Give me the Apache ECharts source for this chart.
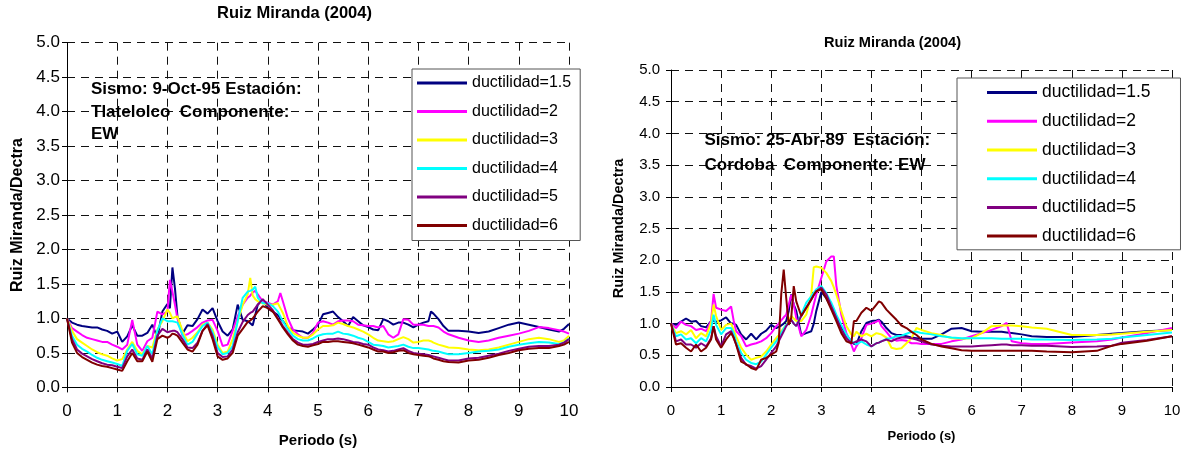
<!DOCTYPE html>
<html>
<head>
<meta charset="utf-8">
<title>Ruiz Miranda (2004)</title>
<script src="https://cdn.jsdelivr.net/npm/echarts@6/dist/echarts.min.js"></script>
<style>
  html, body { margin: 0; padding: 0; background: #fff; }
  #chart { width: 1185px; height: 452px; }
</style>
</head>
<body>
<div id="chart"></div>
<script>
// Ratio Ruiz Miranda / Dectra vs. period, two stations, six ductility levels.

const chartTitle = 'Ruiz Miranda (2004)';
const xAxisTitle = 'Periodo (s)';
const yAxisTitle = 'Ruiz Miranda/Dectra';
const seriesNames = ['ductilidad=1.5', 'ductilidad=2', 'ductilidad=3', 'ductilidad=4', 'ductilidad=5', 'ductilidad=6'];
const seriesColors = ['#000080', '#FF00FF', '#FFFF00', '#00FFFF', '#800080', '#800000'];
const noteLeft = 'Sismo: 9-Oct-95 Estación:\nTlatelolco  Componente:\nEW';
const noteRight = 'Sismo: 25-Abr-89  Estación:\nCordoba  Componente: EW';

// ---- Tlatelolco, 9-Oct-95, EW ----
const periodsLeft = [
  0, 0.1, 0.2, 0.3, 0.4, 0.5, 0.6, 0.7, 0.8, 0.9, 1.0,
  1.1, 1.2, 1.3, 1.4, 1.5, 1.6, 1.7, 1.8, 1.9, 2.0,
  2.05, 2.1, 2.15,
  2.2, 2.3, 2.4, 2.5, 2.6, 2.7, 2.8, 2.9, 3.0,
  3.1, 3.2, 3.3, 3.4, 3.5, 3.6,
  3.65, 3.7, 3.75, 3.8, 3.9, 4.0,
  4.1, 4.2, 4.25, 4.3, 4.4, 4.5,
  4.6, 4.7, 4.8, 4.9, 5.0, 5.1, 5.2, 5.3, 5.4, 5.5,
  5.6, 5.7, 5.8, 5.9, 6.0, 6.1, 6.2, 6.3, 6.4, 6.5,
  6.6, 6.7, 6.8, 6.9, 7.0, 7.1, 7.2,
  7.25, 7.3, 7.4, 7.5, 7.6,
  7.8, 8.0, 8.2, 8.4, 8.6, 8.8, 9.0,
  9.2, 9.4, 9.6, 9.8, 9.9, 10.0
];
const left_mu15 = [
  1.00, 0.94, 0.91, 0.89, 0.88, 0.87, 0.87, 0.84, 0.82, 0.78, 0.81,
  0.66, 0.74, 0.90, 0.75, 0.75, 0.79, 0.91, 0.72, 1.10, 1.21,
  1.15, 1.74, 1.44,
  1.03, 0.78, 0.90, 0.89, 0.99, 1.13, 1.07, 1.15, 0.96,
  0.81, 0.75, 0.84, 1.20, 0.98, 0.96,
  0.93, 0.90, 1.05, 1.20, 1.27, 1.15,
  1.10, 1.05, 1.00, 0.96, 0.87, 0.83,
  0.82, 0.81, 0.78, 0.84, 0.91, 1.06, 1.08, 1.10, 1.02, 0.96,
  0.89, 1.02, 0.96, 0.90, 0.875, 0.84, 0.83, 0.99, 0.96, 0.91,
  0.94, 0.94, 0.91, 0.87, 0.91, 0.94, 0.96,
  1.10, 1.07, 0.99, 0.89, 0.82,
  0.82, 0.81, 0.79, 0.81, 0.86, 0.91, 0.94,
  0.91, 0.875, 0.84, 0.81, 0.85, 0.92
];
const left_mu2 = [
  1.00, 0.86, 0.81, 0.76, 0.72, 0.70, 0.68, 0.66, 0.66, 0.62, 0.59,
  0.55, 0.62, 0.98, 0.62, 0.53, 0.67, 0.72, 1.10, 1.06, 1.10,
  1.56, 1.39, 1.20,
  1.00, 0.75, 0.77, 0.82, 0.875, 0.94, 0.97, 0.98, 0.82,
  0.60, 0.62, 0.82, 1.03, 1.20, 1.30,
  1.33, 1.38, 1.40, 1.35, 1.25, 1.23,
  1.20, 1.25, 1.37, 1.25, 1.00, 0.84,
  0.77, 0.72, 0.72, 0.79, 0.94, 0.96, 0.94, 0.91, 0.96, 0.97,
  0.97, 0.96, 0.91, 0.90, 0.89, 0.89, 0.87, 0.89, 0.77, 0.72,
  0.77, 0.99, 0.98, 0.91, 0.91, 0.91, 0.89,
  0.89, 0.89, 0.87, 0.81, 0.77,
  0.72, 0.68, 0.66, 0.68, 0.72, 0.75, 0.78,
  0.82, 0.875, 0.86, 0.83, 0.81, 0.78
];
const left_mu3 = [
  1.00, 0.82, 0.70, 0.65, 0.60, 0.55, 0.51, 0.48, 0.46, 0.42, 0.39,
  0.41, 0.55, 0.66, 0.53, 0.48, 0.60, 0.58, 0.84, 0.96, 1.13,
  1.08, 1.00, 1.02,
  1.03, 0.82, 0.67, 0.72, 0.80, 0.91, 0.94, 0.84, 0.62,
  0.50, 0.52, 0.70, 0.96, 1.20, 1.35,
  1.59, 1.33, 1.28, 1.25, 1.22, 1.20,
  1.20, 1.22, 1.15, 1.08, 0.89, 0.79,
  0.75, 0.72, 0.72, 0.77, 0.84, 0.89, 0.89, 0.90, 0.94, 0.92,
  0.89, 0.87, 0.84, 0.81, 0.77, 0.72, 0.68, 0.67, 0.66, 0.67,
  0.70, 0.73, 0.70, 0.65, 0.66, 0.68, 0.68,
  0.67, 0.65, 0.62, 0.60, 0.58,
  0.57, 0.55, 0.54, 0.55, 0.58, 0.62, 0.66,
  0.70, 0.72, 0.70, 0.66, 0.68, 0.75
];
const left_mu4 = [
  1.00, 0.75, 0.62, 0.56, 0.52, 0.47, 0.43, 0.40, 0.38, 0.36, 0.34,
  0.31, 0.53, 0.63, 0.48, 0.46, 0.60, 0.48, 0.82, 1.00, 0.96,
  0.96, 0.96, 0.95,
  0.94, 0.77, 0.62, 0.66, 0.78, 0.89, 0.94, 0.80, 0.58,
  0.48, 0.50, 0.60, 0.96, 1.30, 1.39,
  1.40, 1.42, 1.46, 1.30, 1.22, 1.22,
  1.18, 1.10, 1.03, 0.96, 0.84, 0.75,
  0.70, 0.68, 0.68, 0.71, 0.75, 0.77, 0.78, 0.78, 0.81, 0.78,
  0.77, 0.75, 0.72, 0.70, 0.66, 0.62, 0.61, 0.60, 0.58, 0.59,
  0.60, 0.62, 0.59, 0.57, 0.57, 0.56, 0.55,
  0.54, 0.53, 0.52, 0.50, 0.48,
  0.48, 0.50, 0.52, 0.53, 0.55, 0.59, 0.62,
  0.64, 0.66, 0.65, 0.63, 0.65, 0.71
];
const left_mu5 = [
  1.00, 0.70, 0.55, 0.49, 0.45, 0.41, 0.38, 0.35, 0.33, 0.32, 0.30,
  0.28, 0.45, 0.55, 0.42, 0.40, 0.55, 0.42, 0.75, 0.85, 0.80,
  0.81, 0.82, 0.82,
  0.80, 0.70, 0.58, 0.57, 0.65, 0.82, 0.92, 0.75, 0.50,
  0.44, 0.45, 0.55, 0.80, 0.95, 1.05,
  1.08, 1.10, 1.15, 1.20, 1.28, 1.20,
  1.12, 1.00, 0.95, 0.89, 0.79, 0.70,
  0.65, 0.62, 0.62, 0.63, 0.66, 0.68, 0.70, 0.70, 0.71, 0.70,
  0.68, 0.66, 0.65, 0.63, 0.62, 0.58, 0.55, 0.54, 0.52, 0.53,
  0.55, 0.57, 0.53, 0.50, 0.49, 0.48, 0.47,
  0.46, 0.45, 0.43, 0.41, 0.39,
  0.39, 0.42, 0.43, 0.46, 0.49, 0.53, 0.56,
  0.59, 0.60, 0.60, 0.62, 0.65, 0.70
];
const left_mu6 = [
  1.00, 0.65, 0.50, 0.44, 0.40, 0.36, 0.33, 0.31, 0.30, 0.28, 0.26,
  0.24, 0.38, 0.50, 0.38, 0.38, 0.52, 0.37, 0.70, 0.75, 0.72,
  0.74, 0.78, 0.77,
  0.75, 0.65, 0.55, 0.52, 0.62, 0.82, 0.90, 0.70, 0.45,
  0.40, 0.42, 0.50, 0.75, 0.85, 0.95,
  0.97, 1.00, 1.05, 1.10, 1.18, 1.15,
  1.10, 0.99, 0.93, 0.87, 0.77, 0.68,
  0.62, 0.60, 0.59, 0.61, 0.63, 0.66, 0.66, 0.67, 0.67, 0.66,
  0.65, 0.64, 0.62, 0.60, 0.58, 0.55, 0.52, 0.52, 0.50, 0.51,
  0.53, 0.54, 0.50, 0.48, 0.47, 0.46, 0.45,
  0.44, 0.42, 0.40, 0.38, 0.37,
  0.36, 0.39, 0.40, 0.43, 0.47, 0.50, 0.54,
  0.56, 0.57, 0.57, 0.60, 0.62, 0.66
];

// ---- Cordoba, 25-Abr-89, EW ----
const periodsRight = [
  0, 0.1, 0.2, 0.3, 0.4, 0.5, 0.6, 0.7, 0.8,
  0.85, 0.9, 1.0, 1.1, 1.2, 1.25, 1.3,
  1.4, 1.5, 1.6, 1.7, 1.8, 1.9, 2.0, 2.1,
  2.15, 2.2, 2.25, 2.3, 2.35, 2.4, 2.45, 2.5,
  2.6, 2.7, 2.8, 2.85, 2.9, 3.0, 3.1, 3.2, 3.25, 3.3,
  3.4, 3.5, 3.6, 3.65, 3.7, 3.8, 3.9, 4.0,
  4.1, 4.15, 4.2, 4.3, 4.4, 4.5, 4.6, 4.7, 4.8, 4.9, 5.0,
  5.2, 5.4, 5.6, 5.8, 6.0, 6.2, 6.4, 6.6, 6.7, 6.8,
  7.0, 7.2, 7.5, 8.0, 8.5, 8.8, 9.0, 9.5, 10.0
];
const right_mu15 = [
  1.00, 0.98, 1.03, 1.08, 1.03, 1.04, 0.96, 0.94, 1.04,
  1.04, 1.03, 1.05, 1.10, 1.00, 1.00, 0.98,
  0.83, 0.75, 0.84, 0.75, 0.84, 0.89, 0.98, 0.93,
  0.95, 0.97, 1.00, 1.04, 1.20, 1.46, 1.30, 1.20,
  0.82, 0.85, 0.88, 1.00, 1.20, 1.50, 1.40, 1.25, 1.17, 1.10,
  0.95, 0.82, 0.72, 0.68, 0.67, 0.88, 1.01, 1.04,
  1.05, 1.06, 1.03, 0.93, 0.85, 0.82, 0.82, 0.80, 0.78, 0.77, 0.76,
  0.76, 0.83, 0.92, 0.93, 0.88, 0.87, 0.87, 0.87, 0.86, 0.85,
  0.83, 0.80, 0.79, 0.79, 0.82, 0.84, 0.85, 0.88, 0.90
];
const right_mu2 = [
  1.00, 0.93, 1.03, 0.98, 0.96, 0.90, 0.92, 0.88, 1.04,
  1.47, 1.25, 1.22, 1.20, 1.27, 1.05, 0.88,
  0.80, 0.64, 0.67, 0.69, 0.72, 0.77, 0.85, 0.96,
  1.00, 1.05, 1.10, 1.14, 1.30, 1.45, 1.30, 1.09,
  0.80, 0.90, 1.14, 1.30, 1.46, 1.72, 1.98, 2.06, 2.06, 1.60,
  1.14, 0.85, 0.67, 0.56, 0.64, 0.77, 0.98, 1.00,
  1.03, 1.05, 0.96, 0.87, 0.77, 0.73, 0.74, 0.73, 0.69, 0.69, 0.68,
  0.68, 0.68, 0.72, 0.75, 0.80, 0.85, 0.90, 0.96, 1.01, 0.72,
  0.69, 0.68, 0.68, 0.70, 0.72, 0.75, 0.78, 0.85, 0.93
];
const right_mu3 = [
  1.00, 0.85, 0.88, 0.83, 0.90, 0.77, 0.85, 0.80, 1.01,
  1.30, 1.12, 0.90, 0.98, 1.00, 0.90, 0.80,
  0.62, 0.51, 0.43, 0.46, 0.48, 0.56, 0.67, 0.77,
  0.82, 0.88, 0.93, 0.98, 1.05, 1.12, 1.08, 1.04,
  1.04, 1.14, 1.46, 1.89, 1.90, 1.88, 1.80, 1.67, 1.57, 1.46,
  1.20, 0.96, 0.83, 0.80, 0.87, 0.80, 0.84, 0.80,
  0.85, 0.84, 0.83, 0.78, 0.62, 0.60, 0.61, 0.69, 0.77, 0.93, 0.90,
  0.85, 0.82, 0.77, 0.76, 0.77, 0.85, 0.96, 0.97, 0.97, 0.97,
  0.96, 0.94, 0.92, 0.82, 0.82, 0.83, 0.84, 0.87, 0.90
];
const right_mu4 = [
  1.00, 0.80, 0.83, 0.75, 0.77, 0.69, 0.77, 0.72, 0.90,
  1.14, 0.98, 0.83, 0.93, 0.93, 0.85, 0.72,
  0.54, 0.43, 0.38, 0.36, 0.40, 0.51, 0.62, 0.72,
  0.78, 0.85, 0.92, 0.98, 1.02, 1.06, 1.00, 0.96,
  1.14, 1.33, 1.43, 1.49, 1.54, 1.59, 1.48, 1.33, 1.24, 1.14,
  0.98, 0.83, 0.72, 0.70, 0.67, 0.72, 0.67, 0.64,
  0.69, 0.70, 0.72, 0.76, 0.77, 0.80, 0.81, 0.84, 0.87, 0.87, 0.85,
  0.83, 0.80, 0.78, 0.77, 0.77, 0.77, 0.77, 0.76, 0.76, 0.76,
  0.76, 0.75, 0.75, 0.74, 0.75, 0.76, 0.78, 0.82, 0.86
];
const right_mu5 = [
  1.00, 0.72, 0.75, 0.67, 0.67, 0.62, 0.69, 0.64, 0.77,
  0.96, 0.80, 0.64, 0.83, 0.88, 0.78, 0.67,
  0.46, 0.35, 0.33, 0.29, 0.33, 0.43, 0.54, 0.64,
  0.72, 0.80, 0.88, 0.96, 1.01, 1.06, 1.00, 0.96,
  1.12, 1.25, 1.38, 1.45, 1.51, 1.57, 1.46, 1.27, 1.18, 1.09,
  0.90, 0.77, 0.69, 0.70, 0.72, 0.75, 0.72, 0.64,
  0.69, 0.70, 0.72, 0.75, 0.72, 0.76, 0.78, 0.78, 0.77, 0.75, 0.72,
  0.67, 0.65, 0.64, 0.64, 0.64, 0.65, 0.66, 0.67, 0.67, 0.66,
  0.66, 0.65, 0.65, 0.63, 0.64, 0.65, 0.70, 0.74, 0.80
];
const right_mu6 = [
  1.00, 0.67, 0.69, 0.62, 0.56, 0.67, 0.56, 0.62, 0.75,
  0.96, 0.75, 0.62, 0.75, 0.85, 0.78, 0.67,
  0.40, 0.36, 0.30, 0.27, 0.43, 0.46, 0.51, 0.56,
  0.70, 1.46, 1.85, 1.40, 0.98, 1.09, 1.59, 1.35,
  1.12, 1.25, 1.38, 1.45, 1.51, 1.54, 1.40, 1.22, 1.13, 1.04,
  0.85, 0.72, 0.69, 1.04, 1.04, 1.17, 1.25, 1.20,
  1.30, 1.35, 1.33, 1.22, 1.14, 1.06, 0.97, 0.93, 0.87, 0.82, 0.75,
  0.68, 0.64, 0.61, 0.58, 0.57, 0.57, 0.57, 0.57, 0.57, 0.57,
  0.57, 0.57, 0.56, 0.55, 0.57, 0.65, 0.68, 0.73, 0.80
];

const leftValues = [left_mu15, left_mu2, left_mu3, left_mu4, left_mu5, left_mu6];
const rightValues = [right_mu15, right_mu2, right_mu3, right_mu4, right_mu5, right_mu6];

const FONT = '"Liberation Sans", Arial, sans-serif';

function pairs(xs, ys) {
  return xs.map((x, i) => [x, ys[i]]);
}

function makeSeries(values, periods, axisIndex) {
  return values.map((ys, k) => ({
    name: seriesNames[k],
    type: 'line',
    xAxisIndex: axisIndex,
    yAxisIndex: axisIndex,
    data: pairs(periods, ys),
    symbol: 'none',
    showSymbol: false,
    smooth: false,
    lineStyle: { width: 2, color: seriesColors[k] },
    itemStyle: { color: seriesColors[k] },
    emphasis: { disabled: true },
    animation: false
  }));
}

function xAxisFor(gridIndex, fontSize, margin, nameSize, nameGap) {
  return {
    gridIndex: gridIndex,
    type: 'value',
    min: 0, max: 10, interval: 1,
    name: xAxisTitle,
    nameLocation: 'middle',
    nameGap: nameGap,
    nameTextStyle: { fontFamily: FONT, fontWeight: 'bold', fontSize: nameSize, color: '#000' },
    axisLine: { show: true, onZero: false, lineStyle: { color: '#000', width: 1 } },
    axisTick: { show: true, inside: false, length: 5, lineStyle: { color: '#000' } },
    axisLabel: { fontFamily: FONT, fontSize: fontSize, color: '#000', margin: margin },
    splitLine: { show: true, lineStyle: { color: '#111', width: 1, type: [8, 6] } }
  };
}

function yAxisFor(gridIndex, fontSize, margin, nameSize, nameGap) {
  return {
    gridIndex: gridIndex,
    type: 'value',
    min: 0, max: 5, interval: 0.5,
    name: yAxisTitle,
    nameLocation: 'middle',
    nameGap: nameGap,
    nameRotate: 90,
    nameTextStyle: { fontFamily: FONT, fontWeight: 'bold', fontSize: nameSize, color: '#000' },
    axisLine: { show: true, onZero: false, lineStyle: { color: '#000', width: 1 } },
    axisTick: { show: true, inside: false, length: 5, lineStyle: { color: '#000' } },
    axisLabel: { fontFamily: FONT, fontSize: fontSize, color: '#000', margin: margin,
                 formatter: v => v.toFixed(1) },
    splitLine: { show: true, lineStyle: { color: '#111', width: 1, type: [8, 6] } }
  };
}

function legendFor(left, top, fontSize, lineHeight, gap, padding) {
  return {
    data: seriesNames,
    orient: 'vertical',
    left: left, top: top,
    padding: padding,
    itemGap: gap,
    itemWidth: 50,
    itemHeight: 3,
    icon: 'rect',
    selectedMode: false,
    backgroundColor: '#fff',
    borderColor: '#555',
    borderWidth: 1,
    borderRadius: 0,
    textStyle: { fontFamily: FONT, fontSize: fontSize, lineHeight: lineHeight, color: '#000' }
  };
}

const chart = echarts.init(document.getElementById('chart'), null, { renderer: 'canvas' });

chart.setOption({
  backgroundColor: '#fff',
  animation: false,
  title: [
    { text: chartTitle, left: 217, top: 5, padding: 0,
      textStyle: { fontFamily: FONT, fontWeight: 'bold', fontSize: 16.5, color: '#000' } },
    { text: chartTitle, left: 824, top: 35, padding: 0,
      textStyle: { fontFamily: FONT, fontWeight: 'bold', fontSize: 14.6, color: '#000' } }
  ],
  grid: [
    { left: 67, top: 42.7, width: 502, height: 344.7, outerBoundsMode: 'none' },
    { left: 671, top: 70, width: 501, height: 317, outerBoundsMode: 'none' }
  ],
  xAxis: [
    xAxisFor(0, 17, 15, 15, 46),
    xAxisFor(1, 15, 16.5, 13, 42.5)
  ],
  yAxis: [
    yAxisFor(0, 17, 7, 16, 41),
    yAxisFor(1, 15, 11, 14.5, 45)
  ],
  legend: [
    legendFor(412, 69, 16, 18, 10.5, [5, 9, 6, 5]),
    legendFor(957, 78, 17.5, 20, 8.7, [4.6, 30, 3.7, 30])
  ],
  graphic: [
    { type: 'text', left: 91, top: 78, z: 50,
      style: { text: noteLeft, font: 'bold 17px ' + FONT, fill: '#000', lineHeight: 22.6 } },
    { type: 'text', left: 704.5, top: 128, z: 50,
      style: { text: noteRight, font: 'bold 17px ' + FONT, fill: '#000', lineHeight: 24.6 } }
  ],
  series: [
    ...makeSeries(leftValues, periodsLeft, 0),
    ...makeSeries(rightValues, periodsRight, 1)
  ]
});
</script>
</body>
</html>
